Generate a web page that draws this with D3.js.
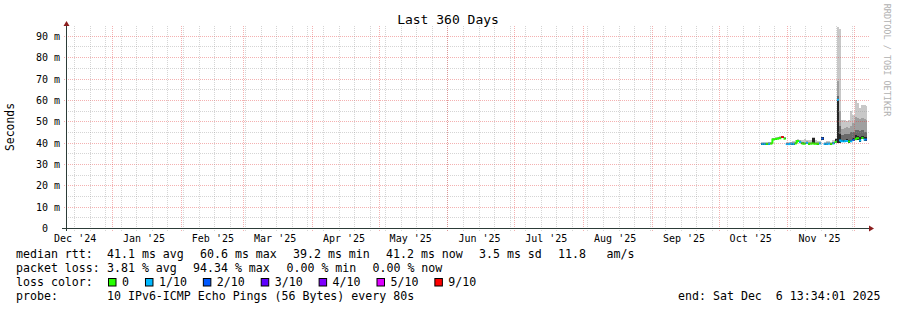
<!DOCTYPE html>
<html>
<head>
<meta charset="utf-8">
<style>
  body { margin: 0; background: #fff; }
  svg { display: block; font-family: "DejaVu Sans Mono", monospace; }
  text { white-space: pre; }
</style>
</head>
<body>
<svg id="chart" width="897" height="310"></svg>
<script src="https://d3js.org/d3.v7.min.js"></script>
<script>

// ---- data ----
var monthLabels = ["Dec '24", "Jan '25", "Feb '25", "Mar '25", "Apr '25", "May '25",
                   "Jun '25", "Jul '25", "Aug '25", "Sep '25", "Oct '25", "Nov '25"];
var yTicks = [0, 10, 20, 30, 40, 50, 60, 70, 80, 90];

var lossLabels = ["0", "1/10", "2/10", "3/10", "4/10", "5/10", "9/10"];
var lossLevels = [0, 1, 2, 3, 4, 5, 9];
var lossColors = ["#26ff00", "#00b8ff", "#0059ff", "#5e00ff", "#7e00ff", "#dd00ff", "#ff0000"];

// one value per day, starting 2025-10-20 (ms)
var firstDay = "2025-10-20";
var median = [39.4, 39.4, 39.4, 39.4, 39.5, 41.4, 41.7, 41.8, 42.0, 42.6,
              41.8, 39.3, 39.3, 39.4, 39.4, 39.6, 40.8, 40.2, 39.6, 39.5,
              39.8, 39.4, 39.5, 39.6, 39.5, 39.4, 39.6, 41.9, 39.4, 39.4,
              39.5, 39.4, 39.6, 40.3, 60.0, 41.0, 40.6, 40.6, 40.8, 40.5,
              40.6, 41.2, 41.6, 42.0, 41.0, 42.2, 41.4, 41.5];
var loss   = [1, 1, 0, 1, 0, 0, 0, 0, 0, 9,
              0, 1, 1, 1, 1, 0, 0, 1, 0, 0,
              1, 0, 0, 0, 0, 0, 1, 2, 1, 1,
              1, 0, 1, 0, 1, 1, 1, 1, 1, 0,
              1, 2, 0, 0, 1, 0, 1, 2];
var smokeLow = [39.1, 39.1, 39.1, 39.1, 39.2, 41.1, 41.4, 41.5, 41.7, 42.2,
                41.5, 39.0, 39.0, 39.1, 39.1, 39.3, 40.4, 39.9, 39.3, 39.2,
                39.5, 39.1, 39.2, 39.3, 39.2, 39.1, 39.3, 41.4, 39.1, 39.1,
                39.2, 39.1, 39.3, 39.9, 40.0, 40.0, 40.1, 40.1, 40.3, 40.0,
                40.1, 40.6, 41.0, 41.4, 40.5, 41.5, 40.8, 40.9];
var smokeOuter = [40.3, 40.4, 40.3, 40.5, 40.5, 42.3, 42.6, 42.7, 43.0, 43.3,
                  42.7, 40.2, 40.2, 40.5, 40.7, 41.0, 41.6, 41.3, 41.4, 41.6,
                  41.3, 41.0, 41.1, 42.4, 41.0, 40.6, 40.8, 42.8, 40.5, 40.6,
                  40.7, 40.5, 41.0, 42.0, 94.0, 93.0, 50.7, 50.5, 49.9, 50.4,
                  54.6, 53.0, 60.0, 58.5, 56.3, 57.7, 57.7, 57.2];
var smokeMid = [40.0, 40.0, 40.0, 40.1, 40.1, 42.0, 42.3, 42.4, 42.6, 43.1,
                42.4, 39.9, 39.9, 40.1, 40.2, 40.4, 41.4, 41.0, 40.5, 40.5,
                40.6, 40.1, 40.2, 42.2, 40.3, 40.1, 40.3, 42.6, 40.0, 40.1,
                40.2, 40.0, 40.4, 41.8, 69.0, 55.0, 46.5, 47.0, 47.5, 47.0,
                48.0, 49.0, 52.0, 51.5, 51.0, 51.5, 51.0, 50.8];
var smokeDark = [39.8, 39.8, 39.8, 39.9, 39.9, 41.8, 42.1, 42.2, 42.4, 43.0,
                 42.2, 39.7, 39.7, 39.8, 39.9, 40.1, 41.2, 40.7, 40.1, 40.0,
                 40.3, 39.8, 39.9, 42.1, 40.0, 39.8, 40.0, 42.5, 39.8, 39.8,
                 39.9, 39.8, 40.1, 41.6, 62.0, 48.0, 43.5, 43.8, 44.0, 44.0,
                 45.0, 45.0, 46.0, 46.0, 45.5, 46.0, 45.0, 45.0];
var smokeInner = [39.6, 39.6, 39.6, 39.6, 39.7, 41.6, 41.9, 42.0, 42.2, 42.8,
                  42.0, 39.5, 39.5, 39.6, 39.6, 39.8, 41.0, 40.4, 39.8, 39.7,
                  40.0, 39.6, 39.7, 42.1, 39.7, 39.6, 39.8, 42.4, 39.6, 39.6,
                  39.7, 39.6, 39.8, 41.5, 60.0, 44.0, 41.2, 41.0, 41.5, 41.2,
                  41.4, 42.0, 43.5, 43.0, 42.5, 43.0, 42.5, 42.8];

var rttLegend  = ["41.1 ms avg", "60.6 ms max", "39.2 ms min", "41.2 ms now", "3.5 ms sd", "11.8", "am/s"];
var lossLegend = ["3.81 % avg", "94.34 % max", "0.00 % min", "0.00 % now"];
var probeText = "10 IPv6-ICMP Echo Pings (56 Bytes) every 80s";
var endText = "end: Sat Dec  6 13:34:01 2025";

// ---- layout ----
var svg = d3.select("#chart"),
    plotLeft = 67, plotRight = 867, plotTop = 26, plotBottom = 228;

var start = new Date(Date.UTC(2024, 11, 11, 13, 34, 1)),
    end = new Date(Date.UTC(2025, 11, 6, 13, 34, 1));

var x = d3.scaleUtc().domain([start, end]).range([plotLeft, plotRight]);
var y = d3.scaleLinear().domain([0, 94.6]).range([plotBottom, plotTop]);

var day0 = d3.utcParse("%Y-%m-%d")(firstDay);
var days = median.map(function(m, i) {
  var t0 = d3.utcDay.offset(day0, i), t1 = d3.utcDay.offset(day0, i + 1);
  if (t1 > end) t1 = end;
  return {t0: t0, t1: t1, median: m, loss: loss[i], low: smokeLow[i],
          outer: smokeOuter[i], mid: smokeMid[i], dark: smokeDark[i], inner: smokeInner[i]};
});

function colorOf(l) { return lossColors[lossLevels.indexOf(l)]; }

// title
svg.append("text")
    .attr("x", 448).attr("y", 23.5)
    .attr("text-anchor", "middle")
    .attr("font-size", 13)
    .text("Last 360 Days");

// vertical label
svg.append("text")
    .attr("transform", "translate(13.5,127) rotate(-90)")
    .attr("text-anchor", "middle")
    .attr("font-size", 11.4)
    .text("Seconds");

// watermark
svg.append("text")
    .attr("transform", "translate(884,60) rotate(90)")
    .attr("text-anchor", "middle")
    .attr("font-size", 8.5)
    .attr("fill", "#b0b0b0")
    .text("RRDTOOL / TOBI OETIKER");

// smoke
var bands = [["outer", "#c8c8c8"], ["mid", "#a0a0a0"], ["dark", "#6a6a6a"], ["inner", "#262626"]];
var smoke = svg.append("g").attr("shape-rendering", "crispEdges");
bands.forEach(function(b) {
  smoke.append("g").selectAll("rect")
    .data(days)
    .enter().append("rect")
      .attr("x", function(d) { return x(d.t0); })
      .attr("width", function(d) { return x(d.t1) - x(d.t0); })
      .attr("y", function(d) { return y(d[b[0]]); })
      .attr("height", function(d) { return y(d.low) - y(d[b[0]]); })
      .attr("fill", b[1]);
});

// median line coloured by loss
svg.append("g").selectAll("path")
  .data(days)
  .enter().append("path")
    .attr("fill", "none")
    .attr("stroke-width", 2)
    .attr("stroke", function(d) { return colorOf(d.loss); })
    .attr("d", function(d, i) {
      var p = days[i - 1], y1 = y(d.median);
      var join = p && p.loss === d.loss && Math.abs(p.median - d.median) < 5;
      return "M" + x(d.t0) + "," + (join ? y(p.median) : y1) + "V" + y1 + "H" + x(d.t1);
    });

// grid (drawn over the graph like rrdtool)
var grid = svg.append("g").attr("shape-rendering", "crispEdges").attr("stroke-dasharray", "1,1");
var minorCol = "rgba(150,150,150,0.4)", majorCol = "rgba(225,50,50,0.38)";

d3.range(5, 95, 5).forEach(function(v) {
  var yy = Math.round(y(v)) + 0.5, major = v % 10 === 0;
  grid.append("line")
      .attr("x1", major ? plotLeft - 3 : plotLeft - 1).attr("x2", plotRight + 2)
      .attr("y1", yy).attr("y2", yy)
      .attr("stroke", major ? majorCol : minorCol);
});

d3.utcSunday.range(start, end).forEach(function(t) {
  var xx = Math.floor(x(t)) + 0.5;
  grid.append("line")
      .attr("x1", xx).attr("x2", xx).attr("y1", plotTop).attr("y2", plotBottom + 3)
      .attr("stroke", minorCol);
});
d3.utcMonth.range(start, end).forEach(function(t) {
  var xx = Math.floor(x(t)) + 0.5;
  grid.append("line")
      .attr("x1", xx).attr("x2", xx).attr("y1", plotTop).attr("y2", plotBottom + 3)
      .attr("stroke", majorCol);
});

// axes
var axisCol = "#2c3c38";
svg.append("line")
    .attr("x1", 62).attr("x2", 870).attr("y1", plotBottom + 0.5).attr("y2", plotBottom + 0.5)
    .attr("stroke", axisCol).attr("shape-rendering", "crispEdges");
svg.append("line")
    .attr("x1", plotLeft - 0.5).attr("x2", plotLeft - 0.5).attr("y1", plotBottom + 3).attr("y2", 24)
    .attr("stroke", axisCol).attr("shape-rendering", "crispEdges");
svg.append("path")
    .attr("d", "M869,225.5L874,228.5L869,231.5Z")
    .attr("fill", "#8b1e1e");
svg.append("path")
    .attr("d", "M63.5,26L66.5,21L69.5,26Z")
    .attr("fill", "#8b1e1e");

var labelDates = d3.utcMonth.range(new Date(Date.UTC(2024, 11, 1)), new Date(Date.UTC(2025, 11, 1)))
    .map(function(m) { return d3.utcDay.offset(m, 14); });

var xAxis = svg.append("g")
    .attr("transform", "translate(0," + plotBottom + ")")
    .call(d3.axisBottom(x).tickValues(labelDates)
      .tickFormat(function(d, i) { return monthLabels[i]; })
      .tickSize(0).tickPadding(6.5));
xAxis.select(".domain").remove();
xAxis.selectAll("text")
    .attr("font-family", "DejaVu Sans Mono").attr("font-size", 10).attr("fill", "#000");

var yAxis = svg.append("g")
    .attr("transform", "translate(" + plotLeft + ",0)")
    .call(d3.axisLeft(y).tickValues(yTicks)
      .tickFormat(function(d) { return d === 0 ? "0" : d + " m"; })
      .tickSize(0).tickPadding(7));
yAxis.select(".domain").remove();
yAxis.selectAll("text")
    .attr("font-family", "DejaVu Sans Mono").attr("font-size", 10).attr("fill", "#000")
    .attr("dx", function(d) { return d === 0 ? -12 : 0; })
    .attr("dy", "0.36em");

// legend
var legend = svg.append("g").attr("font-size", 11.6).attr("fill", "#000");
var rttX = [107, 200, 293, 386, 479, 558, 606.5];
var lossX = [107, 193, 286.5, 372.5];

legend.append("text").attr("x", 16).attr("y", 258).text("median rtt:");
rttLegend.forEach(function(s, i) {
  legend.append("text").attr("x", rttX[i]).attr("y", 258).text(s);
});
legend.append("text").attr("x", 16).attr("y", 272).text("packet loss:");
lossLegend.forEach(function(s, i) {
  legend.append("text").attr("x", lossX[i]).attr("y", 272).text(s);
});
legend.append("text").attr("x", 16).attr("y", 286).text("loss color:");
var bx = 108;
lossLabels.forEach(function(s, i) {
  legend.append("rect")
      .attr("x", bx + 0.5).attr("y", 278.5).attr("width", 7.5).attr("height", 7.5)
      .attr("fill", lossColors[i]).attr("stroke", "#000").attr("stroke-width", 1);
  legend.append("text").attr("x", bx + 14).attr("y", 286).text(s);
  bx += 14 + s.length * 6.97 + 16;
});
legend.append("text").attr("x", 16).attr("y", 300).text("probe:");
legend.append("text").attr("x", 107).attr("y", 300).text(probeText);
legend.append("text").attr("x", 880.5).attr("y", 300).attr("text-anchor", "end").text(endText);

</script>
</body>
</html>
